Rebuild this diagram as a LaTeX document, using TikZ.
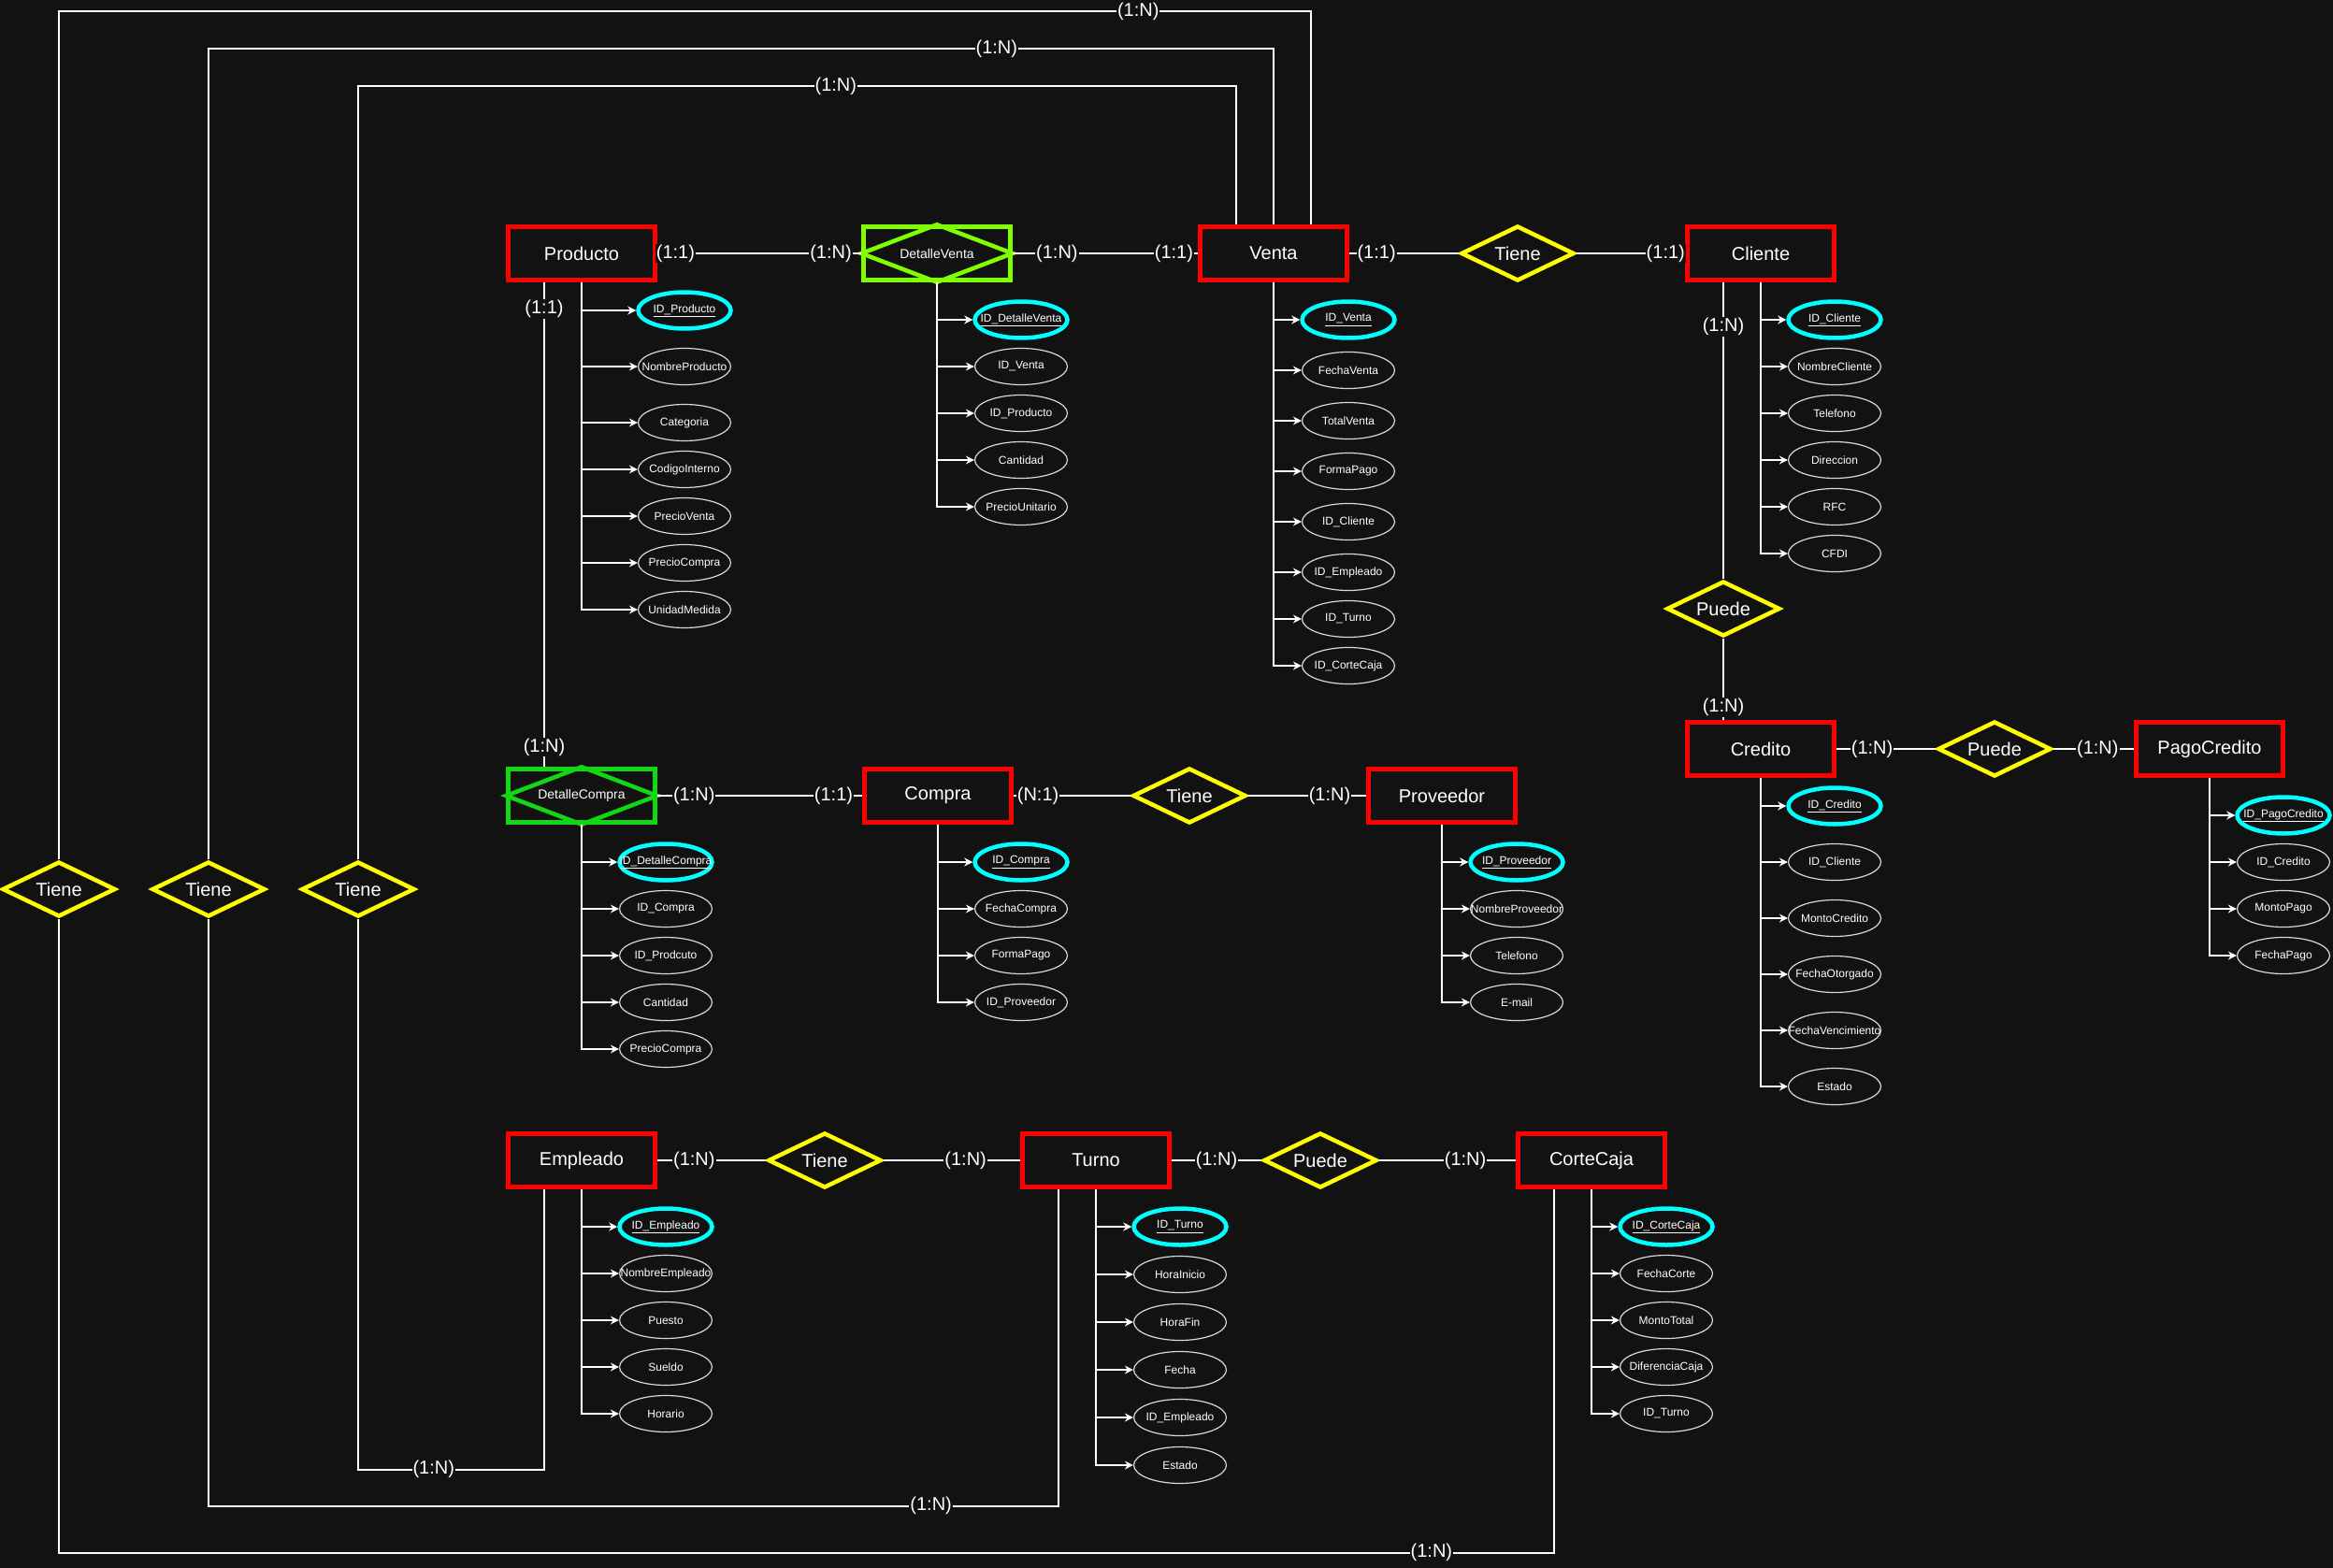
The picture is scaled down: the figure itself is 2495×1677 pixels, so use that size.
\documentclass[tikz,border=0pt]{standalone}
\usepackage{fontspec}
\setmainfont{Liberation Sans}
\usetikzlibrary{shapes.geometric,arrows.meta}

\definecolor{bg}{RGB}{18,18,18}
\definecolor{entred}{RGB}{255,0,0}
\definecolor{relyellow}{RGB}{255,255,0}
\definecolor{keycyan}{RGB}{0,255,255}
\definecolor{weaklime}{RGB}{128,255,0}
\definecolor{weakgreen}{RGB}{20,215,20}

% attribute column: entity, x, list of name/y (the first one is the key)
\newcommand{\attrcol}[3]{%
  \foreach \an/\ay [count=\i] in {#3} {
    \ifnum\i=1\relax
      \node[keyattr] (#1-\i) at (#2,\ay) {\makebox[0pt]{\underline{\an}}};
    \else
      \node[attr] (#1-\i) at (#2,\ay) {\makebox[0pt]{\an}};
    \fi
    \draw[attrline] (#1.south) |- (#1-\i.west);
  }%
}

\begin{document}
\begin{tikzpicture}[x=1pt, y=-1pt,
    entity/.style={draw=entred, line width=4.5pt, minimum width=157pt, minimum height=57pt,
      text=white, font=\fontsize{20}{24}\selectfont},
    weak/.style={entity, font=\fontsize{14}{17}\selectfont},
    rel/.style={diamond, aspect=2, inner sep=0pt, draw=relyellow, line width=4.5pt,
      minimum width=121pt, minimum height=59pt, text=white, font=\fontsize{20}{24}\selectfont},
    attr/.style={ellipse, draw=white!85!black, line width=1.2pt, minimum width=99pt,
      minimum height=39pt, inner sep=0pt, text=white, font=\fontsize{12}{14}\selectfont},
    keyattr/.style={attr, draw=keycyan, line width=4.5pt},
    attrline/.style={white, line width=1.5pt, -{Stealth[length=9pt,width=9pt,inset=3pt]}},
    link/.style={white, line width=1.5pt},
    card/.style={fill=bg, text=white, inner sep=1pt, font=\fontsize{20}{24}\selectfont}
  ]
  \fill[bg] (0,0) rectangle (2495,1677);
  \useasboundingbox (0,0) rectangle (2495,1677);

  % entities and relations
  \node[entity] (Producto) at (622,271) {Producto};
  \node[weak, draw=weaklime] (DetalleVenta) at (1002,271) {DetalleVenta};
  \draw[weaklime, line width=4.5pt] (DetalleVenta.north) -- (DetalleVenta.east)
    -- (DetalleVenta.south) -- (DetalleVenta.west) -- cycle;
  \node[entity] (Venta) at (1362,271) {Venta};
  \node[rel] (TieneVC) at (1623,271) {Tiene};
  \node[entity] (Cliente) at (1883,271) {Cliente};
  \node[rel] (PuedeCC) at (1843,651) {Puede};
  \node[entity] (Credito) at (1883,801) {Credito};
  \node[rel] (PuedeCP) at (2133,801) {Puede};
  \node[entity] (PagoCredito) at (2363,801) {PagoCredito};

  \node[weak, draw=weakgreen] (DetalleCompra) at (622,851) {DetalleCompra};
  \draw[weakgreen, line width=4.5pt] (DetalleCompra.north) -- (DetalleCompra.east)
    -- (DetalleCompra.south) -- (DetalleCompra.west) -- cycle;
  \node[entity] (Compra) at (1003,851) {Compra};
  \node[rel] (TieneCP) at (1272,851) {Tiene};
  \node[entity] (Proveedor) at (1542,851) {Proveedor};

  \node[entity] (Empleado) at (622,1241) {Empleado};
  \node[rel] (TieneET) at (882,1241) {Tiene};
  \node[entity] (Turno) at (1172,1241) {Turno};
  \node[rel] (PuedeTC) at (1412,1241) {Puede};
  \node[entity] (CorteCaja) at (1702,1241) {CorteCaja};

  \node[rel] (Tiene1) at (63,951) {Tiene};
  \node[rel] (Tiene2) at (223,951) {Tiene};
  \node[rel] (Tiene3) at (383,951) {Tiene};

  % links with cardinalities
  \draw[link] (Producto) -- node[card, pos=0.09] {(1:1)} node[card, pos=0.85] {(1:N)} (DetalleVenta);
  \draw[link] (DetalleVenta) -- node[card, pos=0.24] {(1:N)} node[card, pos=0.87] {(1:1)} (Venta);
  \draw[link] (Venta) -- node[card, pos=0.25] {(1:1)} (TieneVC);
  \draw[link] (TieneVC) -- node[card, pos=0.82] {(1:1)} (Cliente);
  \draw[link] ([xshift=-40pt]Cliente.south) -- node[card, pos=0.15] {(1:N)} (PuedeCC);
  \draw[link] (PuedeCC) -- node[card, pos=0.84] {(1:N)} ([xshift=-40pt]Credito.north);
  \draw[link] (Credito) -- node[card, pos=0.36] {(1:N)} (PuedeCP);
  \draw[link] (PuedeCP) -- node[card, pos=0.55] {(1:N)} (PagoCredito);

  \draw[link] ([xshift=-40pt]Producto.south) -- node[card, pos=0.056] {(1:1)}
    node[card, pos=0.959] {(1:N)} ([xshift=-40pt]DetalleCompra.north);
  \draw[link] (DetalleCompra) -- node[card, pos=0.18] {(1:N)} node[card, pos=0.86] {(1:1)} (Compra);
  \draw[link] (Compra) -- node[card, pos=0.21] {(N:1)} (TieneCP);
  \draw[link] (TieneCP) -- node[card, pos=0.69] {(1:N)} (Proveedor);

  \draw[link] (Empleado) -- node[card, pos=0.34] {(1:N)} (TieneET);
  \draw[link] (TieneET) -- node[card, pos=0.6] {(1:N)} (Turno);
  \draw[link] (Turno) -- node[card, pos=0.5] {(1:N)} (PuedeTC);
  \draw[link] (PuedeTC) -- node[card, pos=0.63] {(1:N)} (CorteCaja);

  % loops round the left side
  \draw[link] ([xshift=-40pt]Venta.north) -- ++(0,-148) -| node[card, pos=0.228] {(1:N)} (Tiene3);
  \draw[link] (Venta.north) -- ++(0,-188) -| node[card, pos=0.13] {(1:N)} (Tiene2);
  \draw[link] ([xshift=40pt]Venta.north) -- ++(0,-228) -| node[card, pos=0.069] {(1:N)} (Tiene1);
  \draw[link] ([xshift=-40pt]Empleado.south) -- ++(0,300) -| node[card, pos=0.297] {(1:N)} (Tiene3);
  \draw[link] ([xshift=-40pt]Turno.south) -- ++(0,339) -| node[card, pos=0.075] {(1:N)} (Tiene2);
  \draw[link] ([xshift=-40pt]CorteCaja.south) -- ++(0,389) -| node[card, pos=0.041] {(1:N)} (Tiene1);

  % attributes
  \attrcol{Producto}{732}{ID\_Producto/332, NombreProducto/392, Categoria/452,
    CodigoInterno/502, PrecioVenta/552, PrecioCompra/602, UnidadMedida/652}
  \attrcol{DetalleVenta}{1092}{ID\_DetalleVenta/342, ID\_Venta/392, ID\_Producto/442,
    Cantidad/492, PrecioUnitario/542}
  \attrcol{Venta}{1442}{ID\_Venta/342, FechaVenta/396, TotalVenta/450, FormaPago/504,
    ID\_Cliente/558, ID\_Empleado/612, ID\_Turno/662, ID\_CorteCaja/712}
  \attrcol{Cliente}{1962}{ID\_Cliente/342, NombreCliente/392, Telefono/442,
    Direccion/492, RFC/542, CFDI/592}
  \attrcol{Credito}{1962}{ID\_Credito/862, ID\_Cliente/922, MontoCredito/982,
    FechaOtorgado/1042, FechaVencimiento/1102, Estado/1162}
  \attrcol{PagoCredito}{2442}{ID\_PagoCredito/872, ID\_Credito/922, MontoPago/972, FechaPago/1022}
  \attrcol{DetalleCompra}{712}{ID\_DetalleCompra/922, ID\_Compra/972, ID\_Prodcuto/1022,
    Cantidad/1072, PrecioCompra/1122}
  \attrcol{Compra}{1092}{ID\_Compra/922, FechaCompra/972, FormaPago/1022, ID\_Proveedor/1072}
  \attrcol{Proveedor}{1622}{ID\_Proveedor/922, NombreProveedor/972, Telefono/1022, E-mail/1072}
  \attrcol{Empleado}{712}{ID\_Empleado/1312, NombreEmpleado/1362, Puesto/1412,
    Sueldo/1462, Horario/1512}
  \attrcol{Turno}{1262}{ID\_Turno/1312, HoraInicio/1363, HoraFin/1414, Fecha/1465,
    ID\_Empleado/1516, Estado/1567}
  \attrcol{CorteCaja}{1782}{ID\_CorteCaja/1312, FechaCorte/1362, MontoTotal/1412,
    DiferenciaCaja/1462, ID\_Turno/1512}
\end{tikzpicture}
\end{document}
